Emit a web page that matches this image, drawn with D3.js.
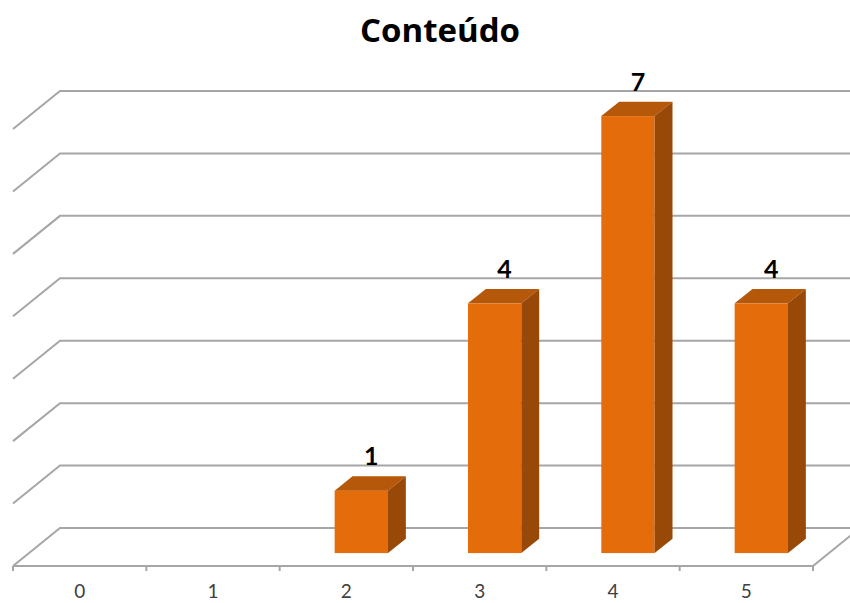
<!DOCTYPE html>
<html>
<head>
<meta charset="utf-8">
<script src="https://cdn.jsdelivr.net/npm/d3@7/dist/d3.min.js"></script>
<style>
  html, body { margin: 0; padding: 0; background: #fff; }
  svg { display: block; }
</style>
</head>
<body>
<svg id="chart" width="850" height="603"></svg>
<script>
// Distribution of scores for "Conteúdo"
const categories = ["0", "1", "2", "3", "4", "5"];
const counts = [0, 0, 1, 4, 7, 4];
const gridValues = [0, 1, 2, 3, 4, 5, 6, 7];
const title = "Conteúdo";

const W = 850, H = 603;
const svg = d3.select("#chart");

// Floor / wall geometry (oblique projection)
const floorFrontY = 566;
const left = 13, right = 813;
const depthX = 47, depthY = 38;          // full depth offset of the back wall
const barDepth0 = 0.34, barDepth1 = 0.72; // bar position inside the depth

const x = d3.scaleBand().domain(categories).range([left, right]).paddingInner(0).paddingOuter(0);
const y = d3.scaleLinear().domain([0, 7]).range([0, 437]); // height above floor

const gridColor = "#a6a6a6";

svg.append("defs").append("clipPath").attr("id", "clip")
  .append("rect").attr("x", 0).attr("y", 0).attr("width", W).attr("height", H);

const g = svg.append("g").attr("clip-path", "url(#clip)");

// Gridlines: left-wall diagonal + back-wall horizontal
const backY = v => floorFrontY - depthY - y(v);
g.selectAll("path.grid").data(gridValues).enter().append("path")
  .attr("class", "grid")
  .attr("fill", "none")
  .attr("stroke", gridColor)
  .attr("stroke-width", 2)
  .attr("d", v => `M${left},${backY(v) + depthY} L${left + depthX},${backY(v)} L${right + depthX},${backY(v)}`);

// Floor front edge and right diagonal
g.append("path")
  .attr("fill", "none")
  .attr("stroke", gridColor)
  .attr("stroke-width", 2)
  .attr("d", `M${left},${floorFrontY} L${right},${floorFrontY} L${right + depthX},${floorFrontY - depthY}`);

// Category axis ticks
g.selectAll("line.tick").data(categories.concat(["end"])).enter().append("line")
  .attr("class", "tick")
  .attr("x1", (d, i) => left + i * x.bandwidth())
  .attr("x2", (d, i) => left + i * x.bandwidth())
  .attr("y1", floorFrontY)
  .attr("y2", floorFrontY + 5)
  .attr("stroke", gridColor)
  .attr("stroke-width", 2);

// Category labels
svg.selectAll("text.cat").data(categories).enter().append("text")
  .attr("class", "cat")
  .attr("x", d => x(d) + x.bandwidth() / 2)
  .attr("y", 598)
  .attr("text-anchor", "middle")
  .attr("font-family", "Lato, 'Open Sans', sans-serif")
  .attr("font-size", 19)
  .attr("fill", "#404040")
  .text(d => d);

// 3D bars
const barW = x.bandwidth() * 0.4;
const fx = barDepth0 * depthX, fy = barDepth0 * depthY;
const bx = (barDepth1 - barDepth0) * depthX, by = (barDepth1 - barDepth0) * depthY;

const bars = categories.map((c, i) => ({ c, v: counts[i] })).filter(d => d.v > 0);
const bg = g.selectAll("g.bar").data(bars).enter().append("g").attr("class", "bar");

const x0 = d => x(d.c) + fx + (x.bandwidth() - barW) / 2 - 1;
const yb = floorFrontY - fy;
const yt = d => yb - y(d.v);

// front face
bg.append("rect")
  .attr("x", x0)
  .attr("y", yt)
  .attr("width", barW)
  .attr("height", d => y(d.v))
  .attr("fill", "#e46c0a");
// top face
bg.append("path")
  .attr("fill", "#b55809")
  .attr("d", d => `M${x0(d)},${yt(d)} L${x0(d) + bx},${yt(d) - by} L${x0(d) + barW + bx},${yt(d) - by} L${x0(d) + barW},${yt(d)} Z`);
// side face
bg.append("path")
  .attr("fill", "#984807")
  .attr("d", d => `M${x0(d) + barW},${yt(d)} L${x0(d) + barW + bx},${yt(d) - by} L${x0(d) + barW + bx},${yb - by} L${x0(d) + barW},${yb} Z`);

// Value labels
svg.selectAll("text.val").data(bars).enter().append("text")
  .attr("class", "val")
  .attr("x", d => x0(d) + (barW + bx) / 2 + 1)
  .attr("y", d => yt(d) - by - 11)
  .attr("text-anchor", "middle")
  .attr("font-family", "Lato, 'Open Sans', sans-serif")
  .attr("font-weight", "bold")
  .attr("font-size", 25)
  .attr("fill", "#000")
  .text(d => d.v);

// Title
svg.append("text")
  .attr("x", 440)
  .attr("y", 42)
  .attr("text-anchor", "middle")
  .attr("font-family", "'Open Sans', Lato, sans-serif")
  .attr("font-weight", "bold")
  .attr("font-size", 33)
  .attr("fill", "#000")
  .text(title);
</script>
</body>
</html>
